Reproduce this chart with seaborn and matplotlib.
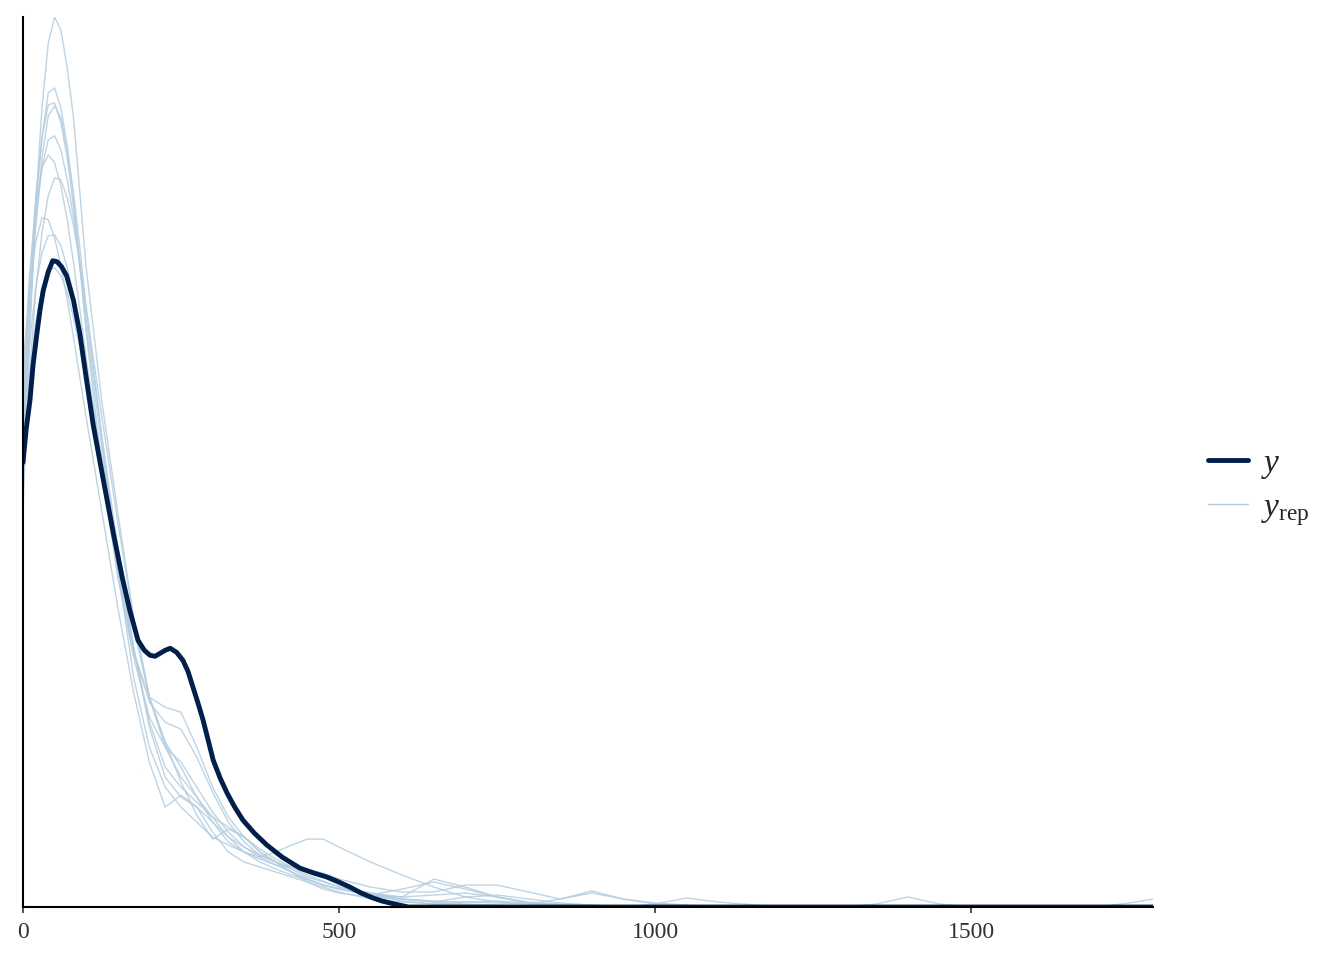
import numpy as np
import pandas as pd
import seaborn as sns
import matplotlib
matplotlib.use('Agg')
import matplotlib.pyplot as plt
from matplotlib.lines import Line2D

y_x = [0, 5, 11, 16, 22, 27, 32, 40, 47, 54, 61, 69, 80, 90, 100, 111, 127, 143, 157, 169,
       182, 192, 201, 209, 217, 225, 233, 243, 253, 261, 269, 277, 285, 293, 301, 312, 323,
       335, 348, 366, 386, 410, 438, 460, 481, 500, 517, 535, 554, 568, 581, 595, 610, 1788]
y_dens = [445, 478, 507, 543, 574, 598, 617, 636, 647, 646, 641, 632, 607, 574, 530, 483, 428, 374, 330, 297,
          267, 257, 252, 251, 254, 257, 259, 255, 247, 236, 220, 204, 187, 167, 147, 129, 114,
          100, 87, 74, 62, 50, 39, 34, 30, 25, 20, 14, 9, 6, 4, 2, 0, 0]

# replicated densities (yrep), all on one grid
rep_x = [0, 10, 20, 30, 40, 50, 60, 70, 80, 90, 100, 125, 150, 175, 200, 225, 250, 275, 300,
         325, 350, 375, 400, 425, 450, 475, 500, 550, 600, 650, 700, 750, 800, 850, 900, 950,
         1000, 1050, 1100, 1200, 1300, 1350, 1400, 1450, 1500, 1600, 1700, 1750, 1788]

rep_1 = [400, 560, 700, 800, 865, 891, 878, 840, 790, 715, 640, 505, 395, 290, 210, 160, 130, 110, 90,
         70, 55, 45, 38, 32, 27, 22, 18, 12, 8, 5, 3, 2, 1, 0, 0, 0,
         0, 0, 0, 0, 0, 0, 0, 0, 0, 0, 0, 0, 0]
rep_2 = [470, 600, 700, 770, 815, 820, 800, 762, 710, 645, 575, 440, 330, 250, 190, 160, 145, 120, 95,
         75, 60, 52, 45, 38, 30, 25, 20, 14, 10, 12, 14, 10, 5, 3, 2, 0,
         0, 0, 0, 0, 0, 0, 0, 0, 0, 0, 0, 0, 0]
rep_3 = [500, 620, 710, 770, 803, 805, 785, 750, 700, 640, 580, 460, 350, 260, 180, 130, 110, 100, 85,
         70, 60, 50, 42, 35, 28, 22, 18, 12, 10, 28, 20, 10, 4, 2, 0, 0,
         0, 0, 0, 0, 0, 0, 0, 0, 0, 0, 0, 0, 0]
rep_4 = [450, 580, 680, 750, 792, 802, 790, 758, 715, 660, 600, 470, 340, 230, 160, 120, 100, 85, 70,
         62, 55, 48, 42, 40, 38, 34, 28, 20, 15, 15, 22, 22, 15, 8, 14, 8,
         4, 2, 0, 0, 0, 0, 0, 0, 0, 0, 0, 0, 0]
rep_5 = [490, 600, 685, 740, 768, 772, 758, 728, 690, 642, 590, 470, 360, 260, 185, 140, 120, 105, 90,
         80, 70, 58, 48, 40, 32, 26, 20, 12, 6, 3, 5, 6, 4, 2, 0, 0,
         3, 9, 5, 0, 0, 0, 0, 0, 0, 0, 0, 0, 0]
rep_6 = [520, 630, 700, 740, 753, 745, 722, 688, 645, 598, 550, 440, 340, 255, 205, 185, 178, 150, 115,
         85, 65, 52, 45, 40, 35, 30, 22, 14, 8, 5, 10, 12, 8, 4, 2, 0,
         0, 0, 0, 0, 0, 0, 0, 0, 0, 0, 0, 0, 0]
rep_7 = [420, 530, 615, 675, 712, 730, 728, 710, 682, 645, 600, 490, 385, 290, 210, 165, 140, 110, 85,
         65, 55, 50, 55, 62, 68, 68, 60, 45, 32, 20, 10, 5, 3, 1, 0, 0,
         0, 0, 0, 0, 0, 0, 0, 0, 0, 0, 0, 0, 0]
rep_8 = [540, 615, 665, 690, 688, 670, 642, 608, 570, 530, 490, 395, 300, 215, 145, 100, 112, 100, 75,
         55, 45, 40, 35, 30, 25, 20, 15, 8, 5, 3, 2, 0, 0, 0, 0, 0,
         0, 0, 0, 0, 0, 3, 10, 3, 0, 0, 0, 0, 0]
rep_9 = [470, 560, 620, 655, 672, 673, 662, 640, 612, 578, 540, 450, 360, 280, 210, 165, 125, 92, 68,
         78, 70, 55, 45, 35, 25, 18, 14, 10, 8, 6, 5, 4, 3, 8, 16, 8,
         3, 1, 0, 0, 0, 0, 0, 0, 0, 0, 0, 0, 0]
rep_10 = [450, 530, 585, 620, 637, 640, 632, 615, 590, 560, 525, 430, 335, 255, 210, 200, 195, 160, 120,
          90, 70, 55, 45, 35, 28, 22, 18, 12, 18, 25, 18, 10, 4, 2, 0, 0,
          0, 0, 0, 0, 0, 0, 0, 0, 0, 0, 0, 4, 8]

reps = [rep_1, rep_2, rep_3, rep_4, rep_5, rep_6, rep_7, rep_8, rep_9, rep_10]

dark = '#011f4b'
light = '#b3cde0'

rep_df = pd.concat([pd.DataFrame({'x': rep_x, 'dens': r, 'draw': i}) for i, r in enumerate(reps)])
obs_df = pd.DataFrame({'x': y_x, 'dens': y_dens})

sns.set_theme(style='white')
plt.rcParams['font.family'] = ['Liberation Serif', 'DejaVu Serif']
plt.rcParams['mathtext.fontset'] = 'custom'
plt.rcParams['mathtext.rm'] = 'Liberation Serif'
plt.rcParams['mathtext.it'] = 'Liberation Serif:italic'
plt.rcParams['lines.solid_joinstyle'] = 'round'
plt.rcParams['lines.solid_capstyle'] = 'round'

fig = plt.figure(figsize=(13.44, 9.6), dpi=100)
ax = fig.add_axes([0.0171, 0.0552, 0.8408, 0.9271])

sns.lineplot(data=rep_df, x='x', y='dens', units='draw', estimator=None,
             color=light, linewidth=1.0, alpha=0.85, ax=ax, legend=False)
sns.lineplot(data=obs_df, x='x', y='dens', color=dark, linewidth=3.5, ax=ax, legend=False)

ax.set_xlim(0, 1788)
ax.set_ylim(0, max(max(r) for r in reps))
ax.set_xticks([0, 500, 1000, 1500])
ax.set_xticklabels(['0', '500', '1000', '1500'])
ax.set_yticks([])
ax.set_xlabel('')
ax.set_ylabel('')
ax.tick_params(axis='x', length=4, width=1.2, color='#333333', labelcolor='#333333',
               labelsize=17, pad=7, bottom=True)

for s in ['top', 'right']:
    ax.spines[s].set_visible(False)
for s in ['left', 'bottom']:
    ax.spines[s].set_color('black')
    ax.spines[s].set_linewidth(1.5)

handles = [Line2D([], [], color=dark, lw=3.5),
           Line2D([], [], color=light, lw=1.0)]
ax.legend(handles, ['$y$', '$y_{\\mathrm{rep}}$'], loc='center left',
          bbox_to_anchor=(1.022, 0.471), frameon=False, fontsize=24,
          handlelength=1.2, handletextpad=0.4, labelspacing=0.35)

fig.savefig('out.png', dpi=100)
